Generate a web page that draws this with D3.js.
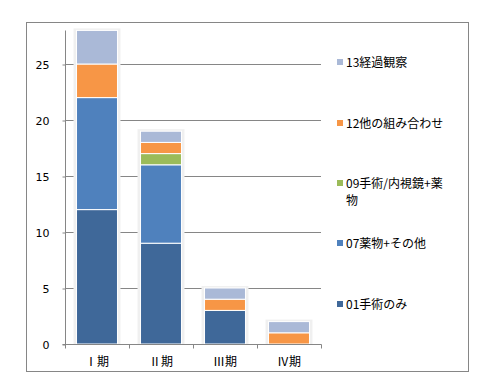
<!DOCTYPE html>
<html><head><meta charset="utf-8">
<script src="https://cdn.jsdelivr.net/npm/d3@7"></script>
<style>
body{margin:0;background:#fff;}
svg{display:block;font-family:"Noto Sans CJK JP","DejaVu Sans",sans-serif;}
</style></head>
<body>
<script>
const categories = ["Ⅰ期","Ⅱ期","Ⅲ期","Ⅳ期"];
const seriesNames = ["01手術のみ","07薬物+その他","09手術/内視鏡+薬物","12他の組み合わせ","13経過観察"];
const s01 = [12, 9, 3, 0];
const s07 = [10, 7, 0, 0];
const s09 = [0, 1, 0, 0];
const s12 = [3, 1, 1, 1];
const s13 = [3, 1, 1, 1];
const yTicks = [0, 5, 10, 15, 20, 25];
const colors = ["#3f6899","#4f81bd","#9bbb59","#f79646","#aab9d7"];

const W = 491, H = 378;
const svg = d3.select("body").append("svg").attr("width", W).attr("height", H);

svg.append("rect").attr("x", 26.5).attr("y", 22.5).attr("width", 442).attr("height", 349)
  .attr("fill", "#fff").attr("stroke", "#868686").attr("stroke-width", 1);

const x0 = 65, x1 = 321, yBottom = 344, yTop = 30.4;
const x = d3.scaleBand().domain(categories).range([x0, x1]).paddingInner(0.36).paddingOuter(0.18);
const y = d3.scaleLinear().domain([0, 28]).range([yBottom, yTop]);

// gridlines
svg.append("g").selectAll("line").data(yTicks.filter(t => t > 0)).join("line")
  .attr("x1", x0).attr("x2", x1)
  .attr("y1", d => Math.round(y(d)) + 0.5).attr("y2", d => Math.round(y(d)) + 0.5)
  .attr("stroke", "#868686");

const table = categories.map((c, i) => ({cat: c, s0: s01[i], s1: s07[i], s2: s09[i], s3: s12[i], s4: s13[i]}));
const stack = d3.stack().keys(["s0","s1","s2","s3","s4"])(table);

// soft shadow
const totals = table.map(d => d.s0 + d.s1 + d.s2 + d.s3 + d.s4);
svg.append("g").selectAll("rect").data(table).join("rect")
  .attr("x", d => x(d.cat) - 3).attr("width", x.bandwidth() + 6)
  .attr("y", (d, i) => y(totals[i]) - 2).attr("height", (d, i) => yBottom - y(totals[i]) + 2)
  .attr("fill", "#f0f0f0");

const g = svg.append("g");
stack.forEach((layer, k) => {
  g.selectAll(null).data(layer.filter(d => d[1] > d[0])).join("rect")
    .attr("x", d => x(d.data.cat)).attr("width", x.bandwidth())
    .attr("y", d => y(d[1])).attr("height", d => y(d[0]) - y(d[1]))
    .attr("fill", colors[k]).attr("stroke", "#fff").attr("stroke-width", 1);
});

// y axis
const yAxis = d3.axisLeft(y).tickValues(yTicks).tickSize(3).tickPadding(13);
const ya = svg.append("g").attr("transform", `translate(${x0 + 0.5},0.5)`).call(yAxis);
ya.select(".domain").attr("stroke", "#868686").attr("d", `M-3,${Math.round(yBottom)}H0V${Math.round(yTop)}`);
ya.selectAll(".tick line").attr("stroke", "#868686");
ya.selectAll(".tick text").attr("fill", "#000").attr("font-size", 11).attr("font-family", "DejaVu Sans, sans-serif");

// x axis
const xa = svg.append("g").attr("transform", `translate(0,${yBottom + 0.5})`);
xa.append("line").attr("x1", x0).attr("x2", x1 + 0.5).attr("stroke", "#868686");
const bounds = categories.map((c, i) => x0 + (x1 - x0) / categories.length * i).concat([x1]);
xa.selectAll(".xt").data(bounds).join("line").attr("class", "xt")
  .attr("x1", d => Math.round(d) + 0.5).attr("x2", d => Math.round(d) + 0.5)
  .attr("y1", 0).attr("y2", 4).attr("stroke", "#868686");
xa.selectAll("text").data(categories).join("text")
  .attr("x", d => x(d) + x.bandwidth() / 2).attr("y", 21)
  .attr("text-anchor", "middle").attr("font-size", 12).attr("fill", "#000")
  .text(d => d);

// legend
const legY = [62, 123, 183, 243, 304];
const leg = svg.append("g");
const order = [4, 3, 2, 1, 0];
order.forEach((k, j) => {
  const yy = legY[j];
  leg.append("rect").attr("x", 337).attr("y", yy - 3).attr("width", 6).attr("height", 6).attr("fill", colors[k]);
  const t = leg.append("text").attr("x", 346).attr("y", yy + 4.5).attr("font-size", 12).attr("fill", "#000");
  if (k === 2) {
    t.text("09手術/内視鏡+薬");
    leg.append("text").attr("x", 346).attr("y", yy + 21.5).attr("font-size", 12).attr("fill", "#000").text("物");
  } else {
    t.text(seriesNames[k]);
  }
});
</script>
</body></html>
